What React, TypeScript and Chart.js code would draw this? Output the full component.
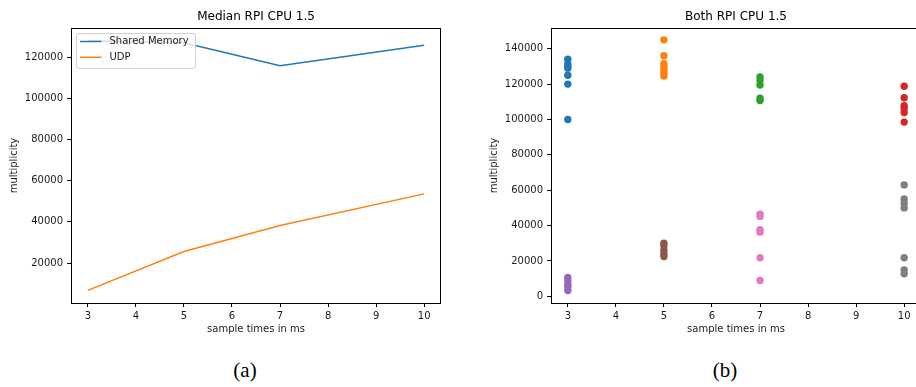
import React, { useEffect, useRef } from "react";
import { Chart, registerables } from "chart.js";

Chart.register(...registerables);

// ---------- data ----------
const sampleTimes = [3, 5, 7, 10];
const sharedMemoryMedian = [128000, 127000, 115900, 125800];
const udpMedian = [6700, 25600, 38200, 53600];

const xTickValues = [3, 4, 5, 6, 7, 8, 9, 10];
const leftYTicks = [20000, 40000, 60000, 80000, 100000, 120000];
const rightYTicks = [0, 20000, 40000, 60000, 80000, 100000, 120000, 140000];

const shmAt3 = [134000, 131500, 130000, 129000, 125000, 120000, 100000];
const shmAt5 = [145000, 136000, 131500, 130000, 128000, 126000, 124600];
const shmAt7 = [124000, 122000, 119500, 112000, 110700];
const shmAt10 = [118800, 112300, 107800, 106300, 103900, 98500];
const udpAt3 = [10700, 9000, 6500, 5500, 3300];
const udpAt5 = [30000, 28500, 26000, 24000, 22500];
const udpAt7 = [46500, 45200, 37700, 36300, 21800, 9000];
const udpAt10 = [63000, 55000, 52700, 50000, 21800, 15000, 12800];

const scatterGroups = [shmAt3, shmAt5, shmAt7, shmAt10, udpAt3, udpAt5, udpAt7, udpAt10];
const scatterGroupX = [3, 5, 7, 10, 3, 5, 7, 10];
const tab10 = ["#1f77b4", "#ff7f0e", "#2ca02c", "#d62728", "#9467bd", "#8c564b", "#e377c2", "#7f7f7f"];

const FONT = "'DejaVu Sans', 'Liberation Sans', sans-serif";
const TEXT = "#1a1a1a";

// ---------- plugins ----------
const framePlugin = {
  id: "frame",
  afterDraw(chart: any) {
    const { ctx, chartArea: a } = chart;
    ctx.save();
    ctx.strokeStyle = "#000";
    ctx.lineWidth = 1;
    ctx.strokeRect(a.left + 0.5, a.top + 0.5, a.right - a.left - 1, a.bottom - a.top);
    ctx.restore();
  },
};

const boxLegendPlugin = {
  id: "boxLegend",
  afterDatasetsDraw(chart: any, _args: any, opts: any) {
    if (!opts || !opts.show) return;
    const { ctx, chartArea: a } = chart;
    const x = a.left + 5.5;
    const y = a.top + 5.5;
    const w = 119;
    const h = 35;
    ctx.save();
    ctx.fillStyle = "rgba(255,255,255,0.8)";
    ctx.strokeStyle = "rgba(204,204,204,0.9)";
    ctx.lineWidth = 1;
    ctx.beginPath();
    (ctx as any).roundRect(x, y, w, h, 2.5);
    ctx.fill();
    ctx.stroke();
    chart.data.datasets.forEach((ds: any, i: number) => {
      const cy = a.top + 13.5 + i * 15.8;
      ctx.strokeStyle = ds.borderColor;
      ctx.lineWidth = 1.5;
      ctx.beginPath();
      ctx.moveTo(a.left + 9, cy);
      ctx.lineTo(a.left + 30.5, cy);
      ctx.stroke();
      ctx.fillStyle = TEXT;
      ctx.font = `10px ${FONT}`;
      ctx.textBaseline = "middle";
      ctx.textAlign = "left";
      ctx.fillText(ds.label, a.left + 38.5, cy);
    });
    ctx.restore();
  },
};

// ---------- shared option builders ----------
function fixedTicks(values: number[]) {
  return (scale: any) => {
    scale.ticks = values.map((v) => ({ value: v }));
  };
}

function makeScales(yMin: number, yMax: number, yTicks: number[]) {
  return {
    x: {
      type: "linear" as const,
      min: 2.65,
      max: 10.35,
      afterBuildTicks: fixedTicks(xTickValues),
      afterFit: (s: any) => {
        s.height = 37;
      },
      grid: { display: true, drawOnChartArea: false, drawTicks: true, tickLength: 4, color: "#000", lineWidth: 1 },
      border: { display: false },
      ticks: {
        color: TEXT,
        font: { family: FONT, size: 10 },
        padding: 3,
        maxRotation: 0,
        autoSkip: false,
      },
      title: {
        display: true,
        text: "sample times in ms",
        color: TEXT,
        font: { family: FONT, size: 10 },
        padding: { top: 0, bottom: 4.7 },
      },
    },
    y: {
      type: "linear" as const,
      min: yMin,
      max: yMax,
      afterBuildTicks: fixedTicks(yTicks),
      afterFit: (s: any) => {
        s.width = 71;
      },
      grid: { display: true, drawOnChartArea: false, drawTicks: true, tickLength: 4, color: "#000", lineWidth: 1 },
      border: { display: false },
      ticks: {
        color: TEXT,
        font: { family: FONT, size: 10 },
        padding: 4,
        autoSkip: false,
        callback: (v: any) => String(v),
      },
      title: {
        display: true,
        text: "multiplicity",
        color: TEXT,
        font: { family: FONT, size: 10 },
        padding: { top: 8.6, bottom: 0 },
      },
    },
  };
}

function makeTitle(text: string) {
  return {
    display: true,
    text,
    fullSize: false,
    color: "#000",
    font: { family: FONT, size: 12, weight: "normal" as const },
    padding: { top: 9.5, bottom: 4.1 },
  };
}

// ---------- components ----------
function MedianChart() {
  const ref = useRef<HTMLCanvasElement>(null);
  useEffect(() => {
    if (!ref.current) return;
    const chart = new Chart(ref.current, {
      type: "line",
      data: {
        datasets: [
          {
            label: "Shared Memory",
            data: sampleTimes.map((t, i) => ({ x: t, y: sharedMemoryMedian[i] })),
            borderColor: tab10[0],
            backgroundColor: tab10[0],
            borderWidth: 1.5,
            pointRadius: 0,
            tension: 0,
          },
          {
            label: "UDP",
            data: sampleTimes.map((t, i) => ({ x: t, y: udpMedian[i] })),
            borderColor: tab10[1],
            backgroundColor: tab10[1],
            borderWidth: 1.5,
            pointRadius: 0,
            tension: 0,
          },
        ],
      },
      options: {
        animation: false,
        responsive: false,
        devicePixelRatio: 1,
        layout: { padding: { left: 0, right: 19, top: 0, bottom: 0 } },
        scales: makeScales(580, 134200, leftYTicks) as any,
        plugins: {
          legend: { display: false },
          tooltip: { enabled: false },
          title: makeTitle("Median RPI CPU 1.5"),
          boxLegend: { show: true },
        } as any,
      },
      plugins: [framePlugin, boxLegendPlugin],
    });
    return () => chart.destroy();
  }, []);
  return (
    <canvas
      ref={ref}
      width={460}
      height={340}
      style={{ position: "absolute", left: 0, top: 0, width: 460, height: 340 }}
    />
  );
}

function BothChart() {
  const ref = useRef<HTMLCanvasElement>(null);
  useEffect(() => {
    if (!ref.current) return;
    const chart = new Chart(ref.current, {
      type: "scatter",
      data: {
        datasets: scatterGroups.map((vals, i) => ({
          label: `group ${i}`,
          data: vals.map((v) => ({ x: scatterGroupX[i], y: v })),
          backgroundColor: tab10[i],
          borderColor: tab10[i],
          borderWidth: 0,
          pointRadius: 3.7,
        })),
      },
      options: {
        animation: false,
        responsive: false,
        devicePixelRatio: 1,
        layout: { padding: { left: 0, right: 19, top: 0, bottom: 0 } },
        scales: makeScales(-3750, 151700, rightYTicks) as any,
        plugins: {
          legend: { display: false },
          tooltip: { enabled: false },
          title: makeTitle("Both RPI CPU 1.5"),
        } as any,
      },
      plugins: [framePlugin],
    });
    return () => chart.destroy();
  }, []);
  return (
    <canvas
      ref={ref}
      width={460}
      height={340}
      style={{ position: "absolute", left: 480, top: 0, width: 460, height: 340 }}
    />
  );
}

const captionStyle: React.CSSProperties = {
  position: "absolute",
  top: 357,
  width: 100,
  textAlign: "center",
  fontFamily: "'Liberation Serif', 'DejaVu Serif', serif",
  fontSize: 21,
  lineHeight: "26px",
  color: "#000",
};

export default function App() {
  useEffect(() => {
    document.body.style.margin = "0";
    document.body.style.overflow = "hidden";
    document.body.style.background = "#fff";
  }, []);
  return (
    <div style={{ position: "relative", width: 916, height: 387, overflow: "hidden", background: "#fff" }}>
      <MedianChart />
      <BothChart />
      <div style={{ ...captionStyle, left: 195 }}>(a)</div>
      <div style={{ ...captionStyle, left: 675 }}>(b)</div>
    </div>
  );
}
